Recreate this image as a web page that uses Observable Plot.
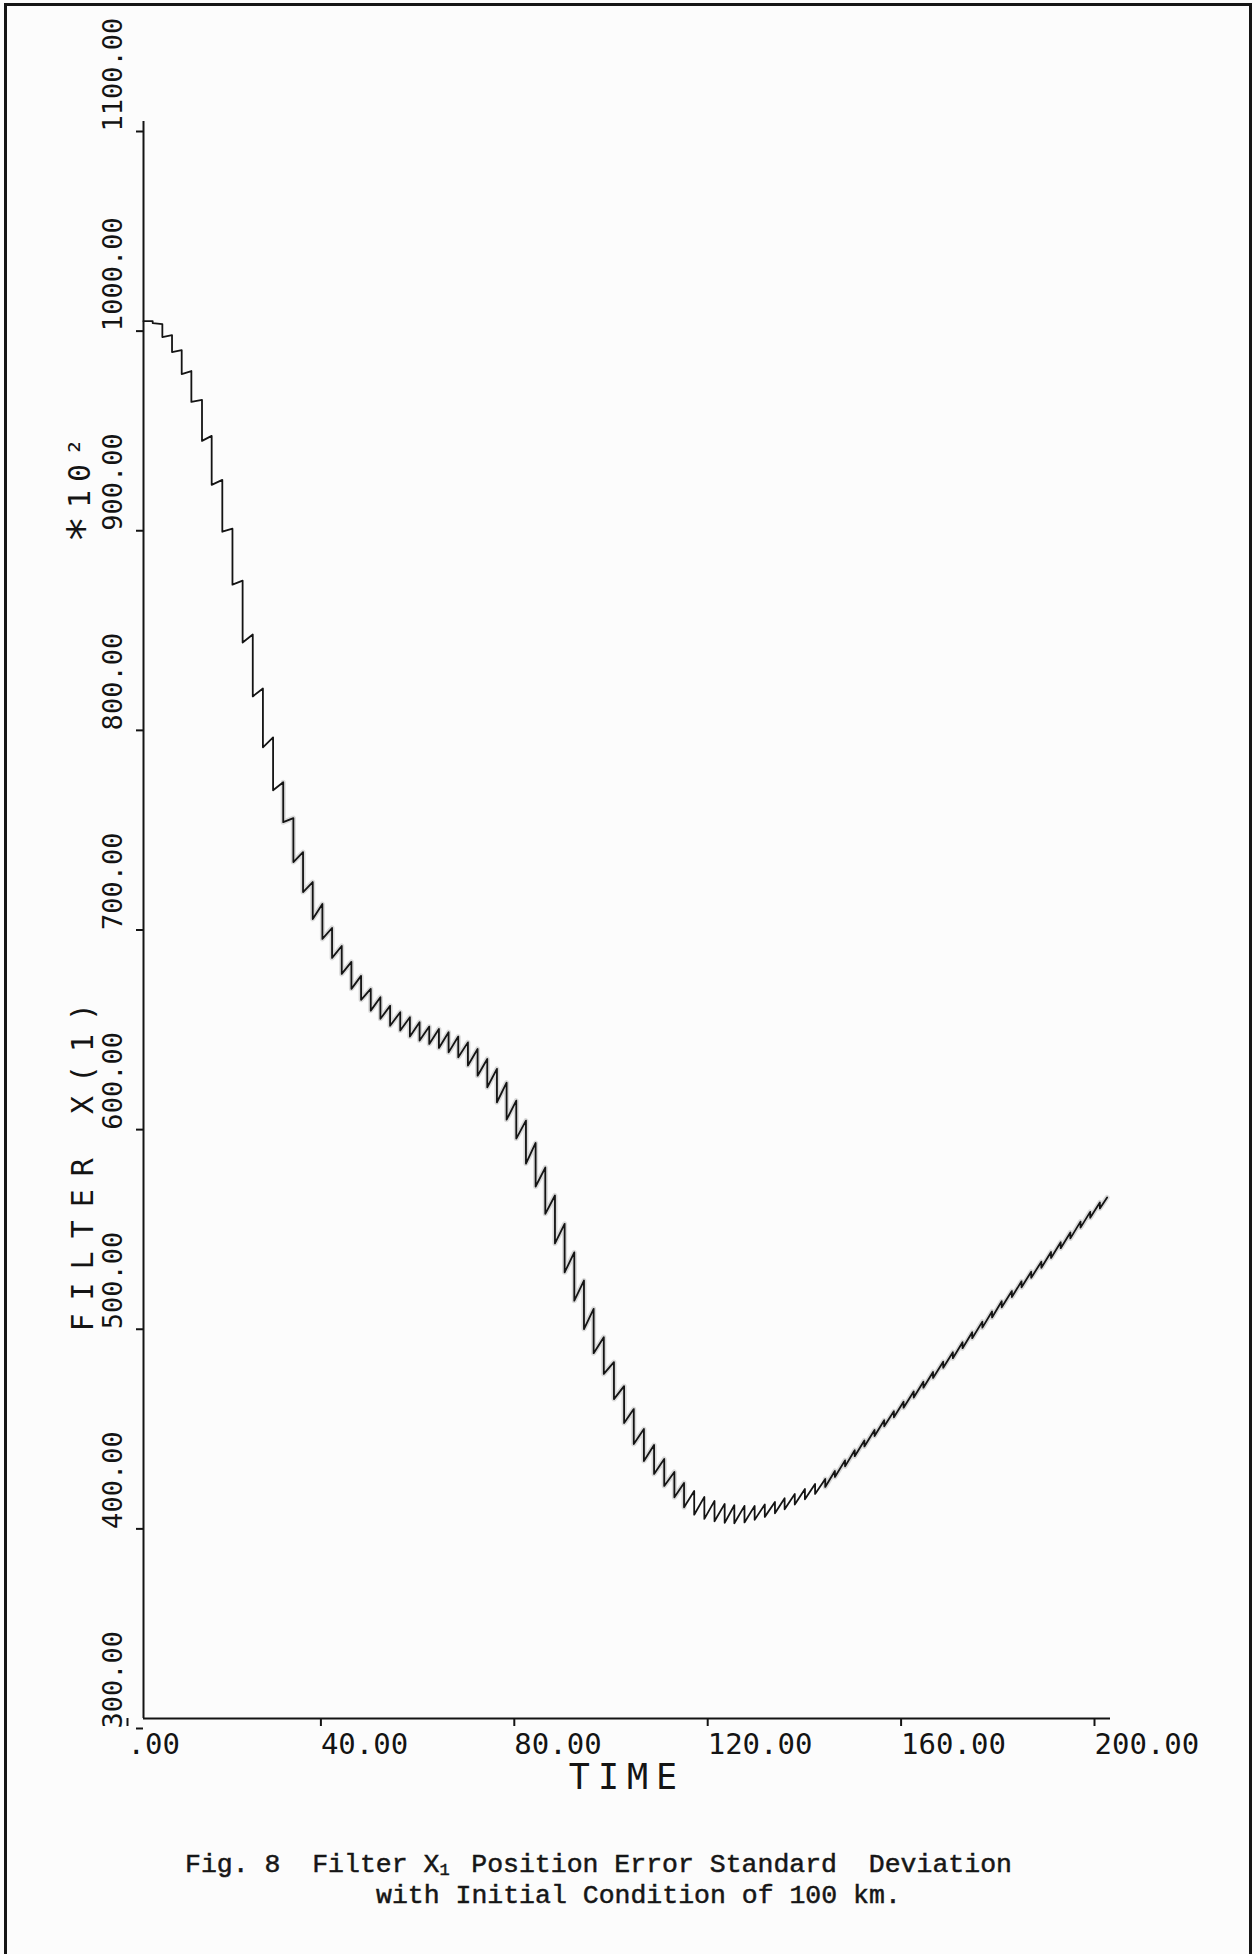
<!DOCTYPE html>
<html>
<head>
<meta charset="utf-8">
<script src="https://cdn.jsdelivr.net/npm/d3@7"></script>
<script src="https://cdn.jsdelivr.net/npm/@observablehq/plot@0.6"></script>
<style>
html, body { margin: 0; padding: 0; width: 1260px; height: 1954px; overflow: hidden; background: #fcfcfc; }
#border { position: absolute; left: 4px; top: 3px; width: 1242px; height: 2100px; border: 3px solid #151515; border-bottom: none; }
#chart { position: absolute; left: 0; top: 0; }
.cap { position: absolute; font-family: "Liberation Mono", monospace; font-size: 26.5px; line-height: 20px; height: 20px; white-space: pre; color: #161616; -webkit-text-stroke: 0.5px #161616; }
.sub { display: inline-block; width: 15.9px; font-size: 17px; line-height: 12px; vertical-align: -3px; }
</style>
</head>
<body>
<div id="border"></div>
<div id="chart"></div>
<div class="cap" style="left:185px;top:1855px">Fig. 8  Filter X<span class="sub">1</span> Position Error Standard  Deviation</div>
<div class="cap" style="left:376px;top:1886px">with Initial Condition of 100 km.</div>
<script>
// ---------- data ----------
const xTicks = [0, 40, 80, 120, 160, 200];
const xTickLabels = [".00", "40.00", "80.00", "120.00", "160.00", "200.00"];
const yTicks = [300, 400, 500, 600, 700, 800, 900, 1000, 1100];
const yTickLabels = ["300.00", "400.00", "500.00", "600.00", "700.00", "800.00", "900.00", "1000.00", "1100.00"];

const xLabel = "TIME";
const yLabel = "FILTER X(1)";
const yMultiplier = "\u221710\u00B2";

const startTime = 0, startSigma = 1000;
const endTime = 199.3, endSigma = 561;

// measurement update times
const measTime = [
  1.9, 3.9, 5.9, 7.9, 9.9, 12.1, 14.1, 16.3, 18.4,
  20.5, 22.6, 24.7, 26.8, 28.9, 31.0, 33.0, 35.0, 37.0, 39.0, 41.0, 43.0, 45.0,
  47.0, 49.0, 51.0, 53.1, 55.1, 57.1, 59.1, 61.1, 63.1, 65.1, 67.1, 69.1, 71.1, 73.1, 75.1, 77.1, 79.1, 81.1, 83.1, 85.1, 87.1, 89.1, 91.1, 93.1, 95.2,
  97.3, 99.4, 101.4, 103.5, 105.6, 107.7, 109.8, 111.8, 113.9, 116.0, 118.1, 120.2, 122.2, 124.3, 126.4, 128.5, 130.6, 132.6, 134.7, 136.8, 138.9, 141.0,
  143.0, 145.1, 147.1, 149.1, 151.2, 153.2, 155.2, 157.2, 159.3, 161.3, 163.3, 165.4, 167.4, 169.4, 171.4, 173.5, 175.5, 177.5, 179.6, 181.6, 183.6, 185.7, 187.7, 189.7, 191.7, 193.8, 195.8, 197.8
];
// standard deviation just before each update (x100 m)
const sigmaBefore = [
  1000, 998.5, 993, 985.5, 975, 960.5, 942.5, 920.5, 896,
  870, 843, 816, 791.5, 769, 751, 734, 719, 708, 696, 687, 679, 672,
  665.5, 661.3, 657, 653.8, 651.3, 648.8, 646.6, 645.4, 643.8, 641.6, 638.7, 635.4, 630.4, 625.4, 618.5, 609.5, 599.5, 588.3, 576, 562, 547.8, 533.5, 519.4, 505.2, 491,
  478.5, 466.5, 455, 445, 437, 430, 423.5, 418, 414, 411, 409, 407.5, 406.8, 406.5, 406.5, 407.2, 408.5, 410.3, 412.5, 415, 417.5, 420,
  424, 429.3, 434.4, 439.3, 444.5, 449.4, 453.9, 458.7, 463.8, 468.7, 473.6, 478.7, 483.5, 488.5, 493.5, 498.8, 503.9, 509, 514.1, 519, 523.8, 528.8, 533.7, 538.6, 543.5, 548.9, 553.8, 558.5
];
// standard deviation just after each update (x100 m)
const sigmaAfter = [
  999, 992, 984.5, 973.5, 959.5, 940, 918, 894.5, 868,
  839, 812, 786.5, 765, 749, 729, 714, 700.5, 690.5, 681, 673, 665.5, 660,
  654.6, 650.5, 647, 644.6, 641.6, 639.6, 637.9, 635.9, 633.7, 631.2, 627.1, 622, 616.2, 608.7, 600, 590.5, 578, 566.5, 552.8, 538, 523.5, 509.3, 495.1, 483, 472.6,
  460, 448, 437.5, 429, 422.5, 416.5, 410.8, 405.8, 402.1, 400, 398.8, 398, 397.8, 398.2, 399.5, 401, 402.8, 404.8, 407.2, 409.8, 412.5, 416,
  421, 426.3, 431.4, 436.3, 441.5, 446.4, 450.9, 455.7, 460.8, 465.7, 470.6, 475.7, 480.5, 485.5, 490.5, 495.8, 500.9, 506, 511.1, 516, 520.8, 525.8, 530.7, 535.6, 540.5, 545.9, 550.8, 555.5
];

// ---------- build the sawtooth path ----------
const path = [{t: startTime, v: startSigma}];
measTime.forEach((t, i) => {
  path.push({t, v: sigmaBefore[i]});
  path.push({t, v: sigmaAfter[i]});
});
path.push({t: endTime, v: endSigma});

const xLab = new Map(xTicks.map((d, i) => [d, xTickLabels[i]]));
const yLab = new Map(yTicks.map((d, i) => [d, yTickLabels[i]]));
const xDomain = [xTicks[0], xTicks[xTicks.length - 1]];
const yDomain = [yTicks[0], yTicks[yTicks.length - 1]];
const smudged = (t) => (t >= 28.5 && t <= 112) || t >= 141;

const ink = "#141414";
const chart = Plot.plot({
  width: 1260,
  height: 1800,
  marginLeft: 143,
  marginRight: 150,
  marginTop: 121,
  marginBottom: 82,
  x: {domain: xDomain},
  y: {domain: yDomain},
  style: {background: "transparent", fontFamily: "'DejaVu Sans Mono', monospace", color: ink, overflow: "visible"},
  marks: [
    Plot.ruleX([xDomain[0]], {stroke: ink, strokeWidth: 2}),
    Plot.ruleY([yDomain[0]], {stroke: ink, strokeWidth: 2}),
    Plot.axisX({ticks: xTicks, tickFormat: (d) => xLab.get(d), tickSize: 8, tickPadding: 7,
      textAnchor: "start", dx: -16, fontSize: 29, strokeWidth: 2, label: null}),
    Plot.axisY({ticks: yTicks, tickFormat: (d) => yLab.get(d), tickSize: 7, tickPadding: 15,
      tickRotate: -90, textAnchor: "start", lineAnchor: "bottom", dy: 10, fontSize: 27, strokeWidth: 2, label: null}),
    Plot.line(path, {x: "t", y: (d) => smudged(d.t) ? d.v : NaN, stroke: "#8a8a8a", strokeWidth: 5, strokeOpacity: 0.3}),
    Plot.line(path, {x: "t", y: "v", stroke: ink, strokeWidth: 1.8}),
    Plot.text([yLabel], {text: (d) => d, frameAnchor: "bottom-left", rotate: -90, textAnchor: "start",
      lineAnchor: "bottom", dx: -51, dy: -387, fontSize: 30}),
    Plot.text([yMultiplier], {text: (d) => d, frameAnchor: "bottom-left", rotate: -90, textAnchor: "start",
      lineAnchor: "bottom", dx: -54, dy: -1176, fontSize: 30}),
    Plot.text([xLabel], {text: (d) => d, frameAnchor: "bottom", lineAnchor: "top", dy: 46, fontSize: 35})
  ]
});
document.getElementById("chart").appendChild(chart);

// plotter-like letter spacing for the axis titles; full-size asterisk in the multiplier
d3.select(chart).selectAll("text").each(function () {
  const s = this.textContent;
  if (s === yLabel) this.style.letterSpacing = "13px";
  else if (s === xLabel) this.style.letterSpacing = "8px";
  else if (s === yMultiplier) {
    this.style.letterSpacing = "8px";
    this.textContent = "";
    const sel = d3.select(this);
    sel.append("tspan").attr("font-size", 44).text(s.slice(0, 1));
    sel.append("tspan").text(s.slice(1));
  }
});
</script>
</body>
</html>
